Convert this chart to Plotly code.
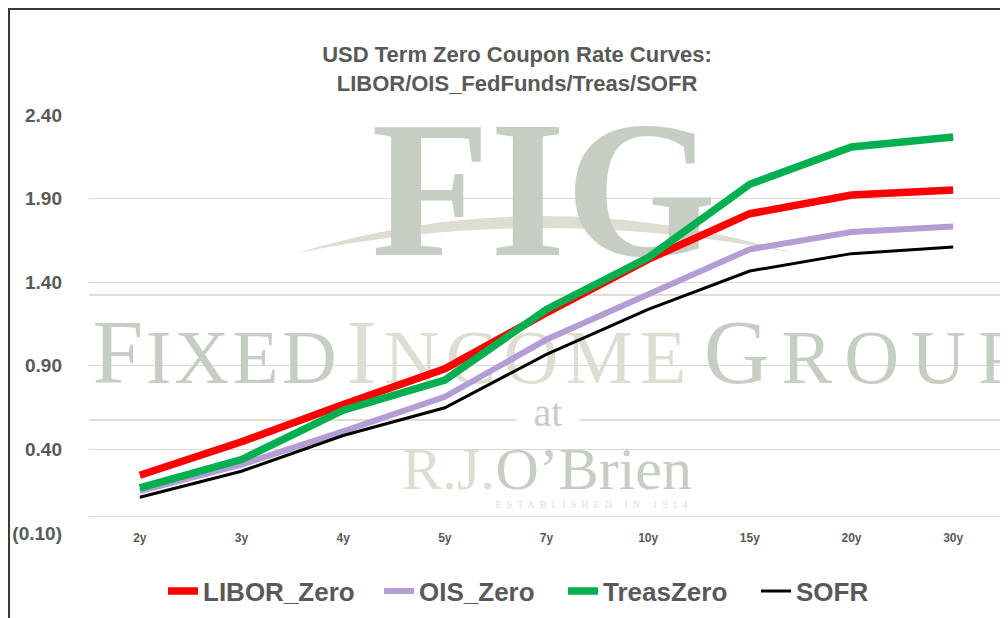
import plotly.graph_objects as go

# ---------------- data ----------------
tenors = ["2y", "3y", "4y", "5y", "7y", "10y", "15y", "20y", "30y"]
libor_zero = [0.245, 0.445, 0.668, 0.882, 1.217, 1.537, 1.810, 1.922, 1.952]
ois_zero = [0.150, 0.309, 0.508, 0.714, 1.057, 1.331, 1.597, 1.700, 1.734]
treas_zero = [0.170, 0.339, 0.634, 0.814, 1.237, 1.547, 1.986, 2.209, 2.269]
sofr = [0.113, 0.269, 0.483, 0.649, 0.968, 1.237, 1.467, 1.571, 1.610]

y_tickvals = [-0.10, 0.40, 0.90, 1.40, 1.90, 2.40]
y_ticktext = ["(0.10)", "0.40", "0.90", "1.40", "1.90", "2.40"]

title_lines = ["USD Term Zero Coupon Rate Curves:", "LIBOR/OIS_FedFunds/Treas/SOFR"]

series_names = ["LIBOR_Zero", "OIS_Zero", "TreasZero", "SOFR"]
series_values = [libor_zero, ois_zero, treas_zero, sofr]
series_colors = ["#FF0000", "#B49CD4", "#00B050", "#000000"]
series_widths = [7.5, 6, 7.5, 3]
legend_text_x = [203, 419, 603, 796]  # screen px where each legend label starts

# ---------------- layout geometry (screen px; page body offsets figure by 8px) ----------------
OFF = 8
W, H = 1008 - OFF, 618 - OFF
PL, PR, PT, PB = 89, 1004, 115, 533          # plot area in screen px
ML, MR, MT, MB = PL - OFF, (W + OFF) - PR, PT - OFF, (H + OFF) - PB
Y_MIN, Y_MAX = -0.1, 2.4
N = len(tenors)

GREY = "#595959"
SANS = "Liberation Sans, Arial, sans-serif"
SERIF = "Liberation Serif, Times New Roman, serif"
WM_GREEN = "#c6cec3"
WM_BEIGE = "#dfddd2"


def px_x(px):
    return -0.5 + (px - PL) / (PR - PL) * N


def px_y(py):
    return Y_MAX - (py - PT) / (PB - PT) * (Y_MAX - Y_MIN)


def paper_x(px):
    return (px - PL) / (PR - PL)


def paper_y(py):
    return (PB - py) / (PB - PT)


def cont_x(px):
    return (px - OFF) / W


def cont_y(py):
    return 1 - (py - OFF) / H


fig = go.Figure()

# ---------------- watermark (drawn first, under the curves) ----------------
def sc(t, size, spacing=0):
    return f"<span style='font-size:{size}px;letter-spacing:{spacing}px'>{t}</span>"

wm = [
    ("FIG", 544, 206, 194, WM_GREEN, "bold"),
    (f"<span style='letter-spacing:3px'>F{sc('IXED', 76, 3)}</span>", 216, 360, 91, WM_GREEN, "normal"),
    (f"<span style='letter-spacing:7px'>I{sc('NCOME', 76, 7)}</span>", 520, 360, 91, WM_BEIGE, "normal"),
    (f"<span style='letter-spacing:12px'>G{sc('ROUP', 76, 12)}</span>", 868, 360, 91, WM_GREEN, "normal"),
    ("at", 548, 416, 40, WM_GREEN, "normal"),
    (f"<span style='fill:{WM_BEIGE}'>R.J.</span>O’Brien", 547, 474, 60, WM_GREEN, "normal"),
    ("<span style='letter-spacing:5px'>ESTABLISHED IN 1914</span>", 594, 506, 10, WM_BEIGE, "normal"),
]
for txt, x0, y0, size, col, wt in wm:
    fig.add_trace(go.Scatter(
        x=[px_x(x0)], y=[px_y(y0)], mode="text", text=[txt],
        textposition="middle center",
        textfont=dict(family=SERIF, size=size, color=col, weight=wt),
        showlegend=False, hoverinfo="skip",
    ))

# swoosh + watermark rules
x1, xm, x2 = 297, 540, 793
swoosh = (
    f"M {px_x(x1)},{px_y(253)} "
    f"Q {px_x(xm)},{px_y(179)} {px_x(x2)},{px_y(253)} "
    f"Q {px_x(xm)},{px_y(203)} {px_x(x1)},{px_y(253)} Z"
)
fig.add_shape(type="path", path=swoosh, xref="x", yref="y",
              fillcolor=WM_BEIGE, line=dict(width=0), layer="below")
for (a, b, yy) in [(PL, PR, 295), (PL, 516, 420), (580, PR, 420)]:
    fig.add_shape(type="line", xref="paper", yref="paper",
                  x0=paper_x(a), x1=paper_x(b), y0=paper_y(yy), y1=paper_y(yy),
                  line=dict(color=WM_BEIGE, width=2), layer="below")

# ---------------- data traces ----------------
xs = list(range(N))
legend_ids = ["legend", "legend2", "legend3", "legend4"]
for name, vals, color, width, lid in zip(series_names, series_values, series_colors,
                                         series_widths, legend_ids):
    fig.add_trace(go.Scatter(
        x=xs, y=vals, mode="lines", name=name, legend=lid,
        line=dict(color=color, width=width),
    ))

# chart border (left + top visible)
fig.add_shape(type="rect", xref="paper", yref="paper",
              x0=paper_x(OFF + 1), x1=paper_x(1030), y0=paper_y(660), y1=paper_y(OFF + 1),
              line=dict(color="#3a3a3a", width=2), layer="above")

legend_layouts = {}
for lid, tx in zip(legend_ids, legend_text_x):
    legend_layouts[lid] = dict(
        orientation="h", x=cont_x(tx - 40), xanchor="left", xref="container",
        y=cont_y(591), yanchor="middle", yref="container",
        font=dict(family=SANS, size=26, color=GREY, weight="bold"),
        bgcolor="rgba(0,0,0,0)", borderwidth=0,
    )

fig.update_layout(
    width=W, height=H,
    margin=dict(l=ML, r=MR, t=MT, b=MB, pad=0, autoexpand=False),
    paper_bgcolor="white", plot_bgcolor="white",
    title=dict(
        text="<br>".join(title_lines),
        x=cont_x(517), xanchor="center", xref="container",
        y=cont_y(62), yanchor="middle", yref="container",
        font=dict(family=SANS, size=22, color=GREY, weight="bold"),
    ),
    xaxis=dict(
        range=[-0.5, N - 0.5], tickvals=xs, ticktext=tenors,
        showgrid=False, zeroline=False, showline=False, ticks="",
        tickfont=dict(family=SANS, size=12, color=GREY, weight="bold"),
        ticklabelstandoff=-4,
    ),
    yaxis=dict(
        range=[Y_MIN - 0.0005, Y_MAX + 0.0005], tickvals=y_tickvals, ticktext=y_ticktext,
        showgrid=True, gridcolor="#d9d9d9", gridwidth=1,
        zeroline=True, zerolinecolor="#d9d9d9", zerolinewidth=1,
        showline=False, ticks="",
        tickfont=dict(family=SANS, size=19, color=GREY, weight="bold"),
        ticklabelstandoff=26,
    ),
    showlegend=True,
    **legend_layouts,
)

fig.write_html("out.html")
